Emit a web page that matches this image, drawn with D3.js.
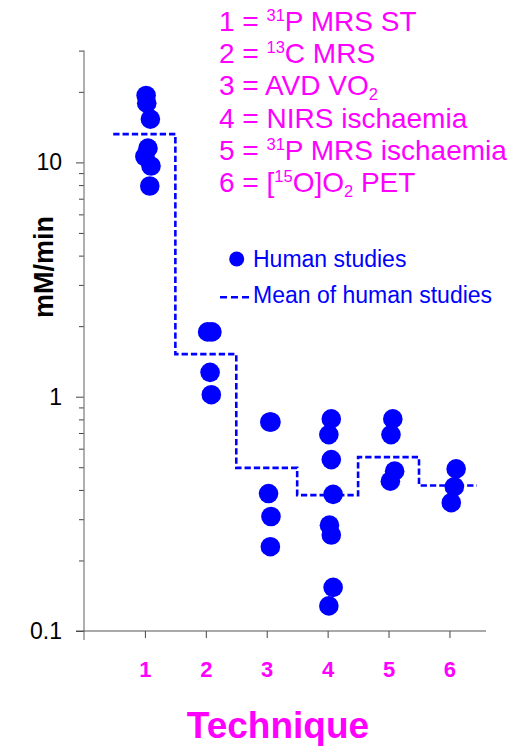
<!DOCTYPE html>
<html><head><meta charset="utf-8">
<script src="https://cdn.jsdelivr.net/npm/d3@7"></script>
<style>
body{margin:0;background:#fff}
svg{display:block}
text{font-family:"Liberation Sans",Arial,Helvetica,sans-serif}
</style>
</head><body>
<svg id="chart" width="525" height="747"></svg>
<script>
// ---------- data ----------
const techniques = [1, 2, 3, 4, 5, 6];
const xTickLabels = ["1", "2", "3", "4", "5", "6"];
// individual human studies: plotted x position (technique + small offset) and value (mM/min)
const pointX = [1.02, 1.03, 1.09, 1.05, 1.00, 1.10, 1.08,
                2.03, 2.10, 2.07, 2.09,
                3.05, 3.07, 3.03, 3.07, 3.06,
                4.06, 4.02, 4.06, 4.09, 4.03, 4.06, 4.09, 4.02,
                5.07, 5.04, 5.10, 5.03,
                6.11, 6.08, 6.03];
const pointValue = [19.3, 17.9, 15.3, 11.5, 10.6, 9.65, 7.93,
                    1.89, 1.89, 1.27, 1.02,
                    0.78, 0.78, 0.386, 0.308, 0.229,
                    0.804, 0.689, 0.539, 0.383, 0.283, 0.257, 0.1535, 0.128,
                    0.804, 0.689, 0.481, 0.436,
                    0.492, 0.413, 0.353];
const meanValues = [13.2, 1.52, 0.497, 0.38, 0.552, 0.418];
const stepEdges = [0.48, 1.5, 2.5, 3.5, 4.5, 5.5, 6.45];
const yTickValues = [0.1, 1, 10];
const yTickLabels = ["0.1", "1", "10"];
const yDomain = [0.1, 30];
const xDomain = [0, 6.6];
const keyLines = [
  [["1 = ", ""], ["31", "sup"], ["P MRS ST", ""]],
  [["2 = ", ""], ["13", "sup"], ["C MRS", ""]],
  [["3 = AVD VO", ""], ["2", "sub"]],
  [["4 = NIRS ischaemia", ""]],
  [["5 = ", ""], ["31", "sup"], ["P MRS ischaemia", ""]],
  [["6 = [", ""], ["15", "sup"], ["O]O", ""], ["2", "sub"], [" PET", ""]]
];
const legendLabels = ["Human studies", "Mean of human studies"];
const yTitle = "mM/min";
const xTitle = "Technique";

// ---------- drawing ----------
const BLUE = "#0000ff", MAGENTA = "#ff00ff";
const svg = d3.select("#chart");
const x = d3.scaleLinear().domain(xDomain).range([84, 486]);
const y = d3.scaleLog().domain(yDomain).range([631, 50.6]);

// y axis: minor ticks
const gy = svg.append("g").attr("transform", "translate(84,0)");
gy.call(d3.axisLeft(y).tickValues(y.ticks().filter(v => !yTickValues.some(t => Math.abs(t - v) < 1e-9)))
  .tickSize(5).tickFormat(""));
gy.select(".domain").remove();
// major ticks
const gyM = svg.append("g").attr("transform", "translate(84,0)");
gyM.call(d3.axisLeft(y).tickValues(yTickValues).tickSize(8).tickPadding(14)
  .tickFormat((d, i) => yTickLabels[i]));
gyM.select(".domain").remove();
gyM.selectAll("text").attr("font-size", 23).attr("fill", "#000")
  .attr("font-family", '"Liberation Sans",Arial,sans-serif');
svg.selectAll(".tick line").attr("stroke", "#444");

// y axis line (extends below x axis)
svg.append("line").attr("x1", x(0)).attr("x2", x(0)).attr("y1", y(yDomain[1])).attr("y2", 640)
  .attr("stroke", "#7a7a7a").attr("stroke-width", 1.2);

// x axis
const gx = svg.append("g").attr("transform", `translate(0,${y(0.1)})`);
gx.call(d3.axisBottom(x).tickValues(techniques).tickSize(7).tickPadding(23)
  .tickFormat((d, i) => xTickLabels[i]));
gx.select(".domain").remove();
gx.selectAll(".tick line").attr("stroke", "#444");
gx.selectAll("text").attr("font-size", 22).attr("font-weight", "bold").attr("fill", MAGENTA)
  .attr("font-family", '"Liberation Sans",Arial,sans-serif');
svg.append("line").attr("x1", 76).attr("x2", x(xDomain[1])).attr("y1", y(0.1)).attr("y2", y(0.1))
  .attr("stroke", "#555").attr("stroke-width", 1.2);

// mean step line
const stepPts = stepEdges.map((e, i) => [e, meanValues[Math.min(i, meanValues.length - 1)]]);
svg.append("path")
  .attr("d", d3.line().x(d => x(d[0])).y(d => y(d[1])).curve(d3.curveStepAfter)(stepPts))
  .attr("fill", "none").attr("stroke", BLUE).attr("stroke-width", 2.6)
  .attr("stroke-dasharray", "6.3,3");

// points
svg.append("g").selectAll("circle").data(pointValue).join("circle")
  .attr("cx", (d, i) => x(pointX[i])).attr("cy", d => y(d)).attr("r", 9.8).attr("fill", BLUE);

// axis titles
svg.append("text").attr("transform", "translate(53,267) rotate(-90)")
  .attr("text-anchor", "middle").attr("font-size", 27).attr("font-weight", "bold").attr("fill", "#000")
  .text(yTitle);
svg.append("text").attr("x", 278).attr("y", 738).attr("text-anchor", "middle")
  .attr("font-size", 37).attr("font-weight", "bold").attr("fill", MAGENTA).text(xTitle);

// technique key
const key = svg.append("g");
keyLines.forEach((segs, li) => {
  const t = key.append("text").attr("x", 219).attr("y", 31 + li * 32.2)
    .attr("font-size", 28).attr("fill", MAGENTA);
  let shift = 0;
  segs.forEach(([s, kind]) => {
    const ts = t.append("tspan").text(s);
    const target = kind === "sup" ? -10 : kind === "sub" ? 5 : 0;
    ts.attr("dy", target - shift);
    shift = target;
    if (kind) ts.attr("font-size", 16.5);
  });
});

// legend
const lg = svg.append("g");
lg.append("circle").attr("cx", 236.7).attr("cy", 259).attr("r", 7.5).attr("fill", BLUE);
lg.append("text").attr("x", 253).attr("y", 266.7).attr("font-size", 23).attr("fill", BLUE).text(legendLabels[0]);
lg.append("line").attr("x1", 220).attr("x2", 249.5).attr("y1", 297.3).attr("y2", 297.3)
  .attr("stroke", BLUE).attr("stroke-width", 2.6).attr("stroke-dasharray", "7,4");
lg.append("text").attr("x", 253).attr("y", 303.3).attr("font-size", 23).attr("fill", BLUE).text(legendLabels[1]);
</script>
</body></html>
